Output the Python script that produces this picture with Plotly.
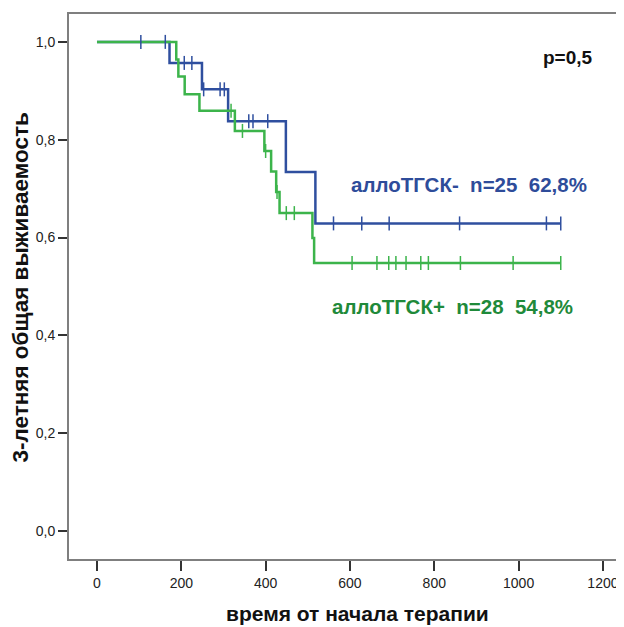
import plotly.graph_objects as go

# ---- data ----
blue_step_times = [0, 172, 249, 311, 448, 518, 1100]
blue_step_surv = [1.0, 0.957, 0.903, 0.838, 0.734, 0.629, 0.629]
blue_censor_times = [104, 162, 207, 225, 253, 292, 302, 360, 370, 405,
                     561, 628, 693, 860, 1066, 1100]

green_step_times = [0, 188, 193, 208, 243, 327, 397, 413, 425, 433, 511, 515, 1100]
green_step_surv = [1.0, 0.964, 0.929, 0.893, 0.859, 0.818, 0.777, 0.735,
                   0.693, 0.650, 0.599, 0.548, 0.548]
green_censor_times = [318, 345, 400, 427, 449, 468, 605, 664, 692, 709, 733,
                      768, 786, 862, 987, 1100]

x_ticks = [0, 200, 400, 600, 800, 1000, 1200]
y_ticks = [0.0, 0.2, 0.4, 0.6, 0.8, 1.0]
y_tick_labels = ["0,0", "0,2", "0,4", "0,6", "0,8", "1,0"]

blue_label = "аллоТГСК-  n=25  62,8%"
green_label = "аллоТГСК+  n=28  54,8%"
p_label = "p=0,5"
x_title = "время от начала терапии"
y_title = "3-летняя общая выживаемость"

BLUE = "#2f4f9f"
GREEN = "#3cb44b"
BLUE_TXT = "#2e4c9a"
GREEN_TXT = "#1f8a3a"
FONT = "Liberation Sans, Arial, sans-serif"


def surv_at(times, survs, t):
    s = survs[0]
    for ti, si in zip(times, survs):
        if ti <= t:
            s = si
    return s


fig = go.Figure()
fig.add_trace(go.Scatter(x=blue_step_times, y=blue_step_surv, mode="lines",
                         line=dict(color=BLUE, width=2.5, shape="hv"),
                         showlegend=False, hoverinfo="skip"))
fig.add_trace(go.Scatter(x=green_step_times, y=green_step_surv, mode="lines",
                         line=dict(color=GREEN, width=2.5, shape="hv"),
                         showlegend=False, hoverinfo="skip"))
fig.add_trace(go.Scatter(x=blue_censor_times,
                         y=[surv_at(blue_step_times, blue_step_surv, t) for t in blue_censor_times],
                         mode="markers",
                         marker=dict(symbol="line-ns", size=10,
                                     line=dict(color=BLUE, width=1.5)),
                         showlegend=False, hoverinfo="skip"))
fig.add_trace(go.Scatter(x=green_censor_times,
                         y=[surv_at(green_step_times, green_step_surv, t) for t in green_censor_times],
                         mode="markers",
                         marker=dict(symbol="line-ns", size=10,
                                     line=dict(color=GREEN, width=1.5)),
                         showlegend=False, hoverinfo="skip"))

fig.add_annotation(x=598, y=0.708, xref="x", yref="y", text=blue_label,
                   showarrow=False, xanchor="left", yanchor="middle",
                   font=dict(family=FONT, size=20.5, color=BLUE_TXT, weight="bold"))
fig.add_annotation(x=553, y=0.459, xref="x", yref="y", text=green_label,
                   showarrow=False, xanchor="left", yanchor="middle",
                   font=dict(family=FONT, size=20.5, color=GREEN_TXT, weight="bold"))
fig.add_annotation(x=1053, y=0.969, xref="x", yref="y", text=p_label,
                   showarrow=False, xanchor="left", yanchor="middle",
                   font=dict(family=FONT, size=19, color="#111111", weight="bold"))

fig.add_annotation(x=0.5207, y=-0.100, xref="paper", yref="paper", text=x_title,
                   showarrow=False, xanchor="center", yanchor="middle",
                   font=dict(family=FONT, size=21, color="#111111", weight="bold"))
fig.add_annotation(x=-0.0865, y=0.498, xref="paper", yref="paper", text=y_title,
                   showarrow=False, xanchor="center", yanchor="middle", textangle=-90,
                   font=dict(family=FONT, size=22.5, color="#111111", weight="bold"))

# the page body adds an 8px offset, so the figure is 8px smaller than the window
fig.update_layout(
    width=616, height=619,
    margin=dict(l=61, r=0, t=6, b=68),
    paper_bgcolor="white", plot_bgcolor="white",
    xaxis=dict(range=[-66.4, 1250], tickvals=x_ticks, ticktext=[str(v) for v in x_ticks],
               showgrid=False, zeroline=False, showline=True, linecolor="#7f7f7f",
               linewidth=2, mirror=True, ticks="outside", ticklen=10, tickwidth=1.5,
               tickcolor="#333333",
               tickfont=dict(family=FONT, size=14, color="#222222")),
    yaxis=dict(range=[-0.057, 1.057], tickvals=y_ticks, ticktext=y_tick_labels,
               showgrid=False, zeroline=False, showline=True, linecolor="#7f7f7f",
               linewidth=2, mirror=False, ticks="outside", ticklen=9, tickwidth=1.5,
               tickcolor="#333333",
               tickfont=dict(family=FONT, size=14, color="#222222")),
)

fig.write_html("out.html")
